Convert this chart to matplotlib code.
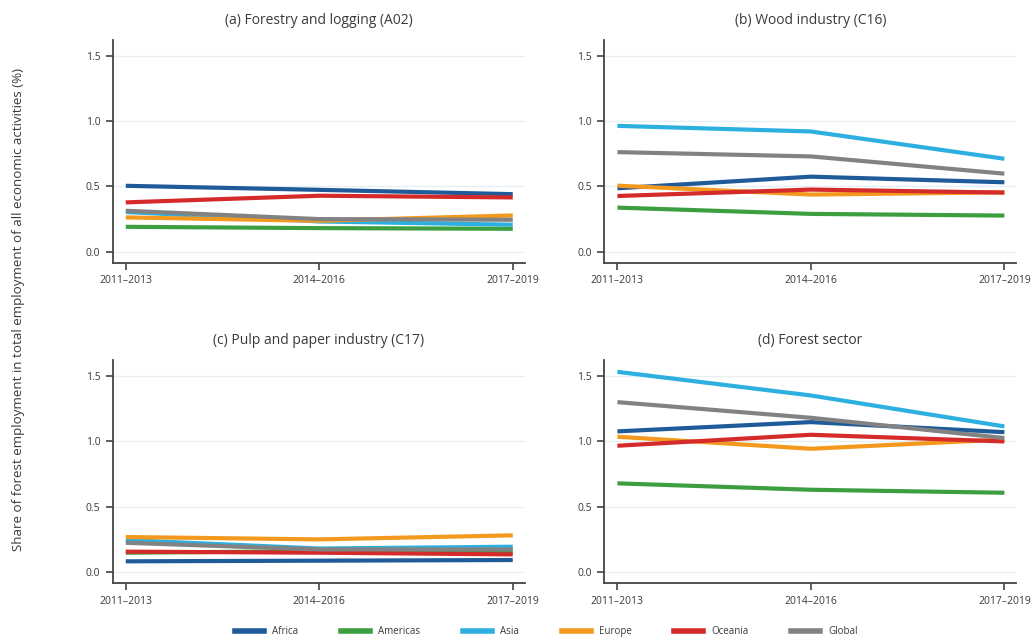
import numpy as np
import matplotlib
matplotlib.use("Agg")
import matplotlib.pyplot as plt

plt.rcParams['font.family'] = ['Open Sans', 'DejaVu Sans']

periods = ["2011\u20132013", "2014\u20132016", "2017\u20132019"]
regions = ["Africa", "Americas", "Asia", "Europe", "Oceania", "Global"]
colors = ["#1f5b99", "#3c9e3f", "#2db0e0", "#f39a1e", "#d42a2a", "#828282"]

titles = ["(a) Forestry and logging (A02)", "(b) Wood industry (C16)",
          "(c) Pulp and paper industry (C17)", "(d) Forest sector"]

# values per region, for each panel
forestry = {
    "Africa":   [0.505, 0.474, 0.441],
    "Americas": [0.191, 0.181, 0.176],
    "Asia":     [0.304, 0.232, 0.207],
    "Europe":   [0.263, 0.237, 0.278],
    "Oceania":  [0.378, 0.429, 0.416],
    "Global":   [0.314, 0.250, 0.245],
}
wood = {
    "Africa":   [0.486, 0.575, 0.532],
    "Americas": [0.338, 0.290, 0.277],
    "Asia":     [0.964, 0.921, 0.712],
    "Europe":   [0.506, 0.438, 0.455],
    "Oceania":  [0.427, 0.476, 0.453],
    "Global":   [0.763, 0.730, 0.598],
}
pulp = {
    "Africa":   [0.082, 0.087, 0.092],
    "Americas": [0.148, 0.160, 0.156],
    "Asia":     [0.245, 0.180, 0.194],
    "Europe":   [0.268, 0.250, 0.281],
    "Oceania":  [0.156, 0.148, 0.135],
    "Global":   [0.224, 0.173, 0.173],
}
sector = {
    "Africa":   [1.077, 1.148, 1.071],
    "Americas": [0.679, 0.630, 0.607],
    "Asia":     [1.533, 1.352, 1.115],
    "Europe":   [1.036, 0.944, 1.015],
    "Oceania":  [0.967, 1.051, 1.000],
    "Global":   [1.301, 1.181, 1.026],
}
panels = [forestry, wood, pulp, sector]

fig = plt.figure(figsize=(10.35, 6.38), dpi=100)
boxes = [
    [0.109, 0.588, 0.398, 0.349],
    [0.584, 0.588, 0.398, 0.349],
    [0.109, 0.086, 0.398, 0.349],
    [0.584, 0.086, 0.398, 0.349],
]
txt = "#3a3a3a"
x = np.arange(len(periods))

for box, data, title in zip(boxes, panels, titles):
    ax = fig.add_axes(box)
    for reg, col in zip(regions, colors):
        ax.plot(x, data[reg], color=col, lw=3, solid_capstyle='butt', label=reg)
    ax.set_xlim(-0.067, 2.062)
    ax.set_ylim(-0.085, 1.62)
    ax.set_yticks([0.0, 0.5, 1.0, 1.5])
    ax.set_yticklabels(["0.0", "0.5", "1.0", "1.5"])
    ax.set_xticks(x)
    ax.set_xticklabels(periods)
    ax.grid(axis='y', color='#e6eff2', lw=1)
    ax.set_axisbelow(True)
    for s in ['top', 'right']:
        ax.spines[s].set_visible(False)
    for s in ['left', 'bottom']:
        ax.spines[s].set_color('#444444')
        ax.spines[s].set_linewidth(1.3)
    ax.tick_params(length=5, width=1.2, color='#444444', labelsize=7.5, labelcolor=txt, pad=4)
    ax.set_title(title, fontsize=10, color=txt, pad=12)

fig.text(0.018, 0.515, "Share of forest employment in total employment of all economic activities (%)",
         rotation=90, va='center', ha='center', fontsize=9.6, color=txt)

handles = [plt.Line2D([0], [0], color=c, lw=4) for c in colors]
fig.legend(handles, regions, loc='lower center', bbox_to_anchor=(0.528, -0.012), ncol=6,
           frameon=False, fontsize=7, handlelength=3, columnspacing=4.4, labelcolor=txt)

fig.savefig("out.png", dpi=100)
